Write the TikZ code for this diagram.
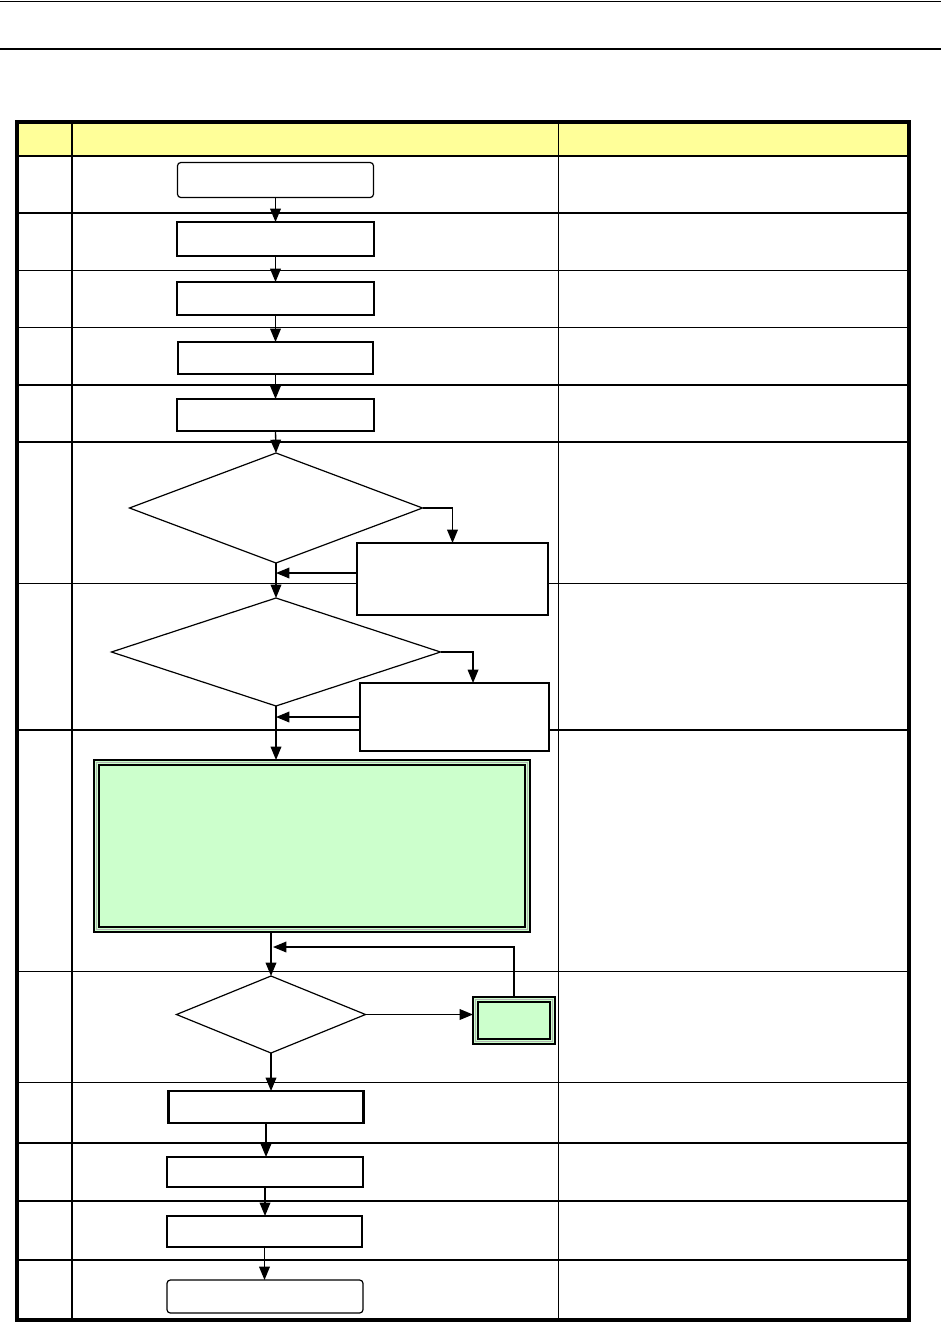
\documentclass[tikz,border=0pt]{standalone}
\usetikzlibrary{shapes.geometric,arrows.meta,calc}
\definecolor{hdr}{RGB}{255,255,153}
\definecolor{grn}{RGB}{204,255,204}
\begin{document}
\begin{tikzpicture}[x=0.75pt,y=-0.75pt,
  thinl/.style={line width=0.75pt},
  thickl/.style={line width=1.6pt},
  box/.style={draw, fill=white, inner sep=0pt, outer sep=0pt},
  rbox/.style={box, rounded corners=2.5pt},
  dia/.style={draw, fill=white, shape=diamond, inner sep=0pt, outer sep=0pt, line width=0.9pt},
  arr/.style={-{Triangle[length=10pt,width=8pt]}, line width=1pt},
  gbox/.style={draw, fill=grn, inner sep=0pt, outer sep=0pt, line width=1.8pt}]
\useasboundingbox (0,0) rectangle (941,1322);
\fill[white] (0,0) rectangle (941,1322);
% page rules
\draw[thinl] (0,1) -- (941,1);
\draw[line width=1.8pt] (0,49) -- (941,49);
% table
\fill[hdr] (17,122) rectangle (909,156);
\foreach \yy in {270,327,583,971,1082} \draw[thinl] (17,\yy) -- (909,\yy);
\foreach \yy in {156,213,385,442,730,1143,1201,1260} \draw[thickl] (17,\yy) -- (909,\yy);
\draw[thinl] (558,122) -- (558,1320);
\draw[thickl] (72,122) -- (72,1320);
\draw[line width=2.3pt] (17,122) rectangle (909,1320);
% process boxes
\node[rbox, line width=0.9pt, minimum width={196*0.75pt}, minimum height={35*0.75pt}] (b1) at (275.5,180) {};
\node[box, line width=1.6pt, minimum width={197*0.75pt}, minimum height={34*0.75pt}] (b2) at (275.5,239) {};
\node[box, line width=0.9pt, minimum width={197*0.75pt}, minimum height={33*0.75pt}] (b3) at (275.5,298.5) {};
\node[box, line width=1.1pt, minimum width={195*0.75pt}, minimum height={32*0.75pt}] (b4) at (275.5,358) {};
\node[box, line width=1.6pt, minimum width={197*0.75pt}, minimum height={32*0.75pt}] (b5) at (275.5,415) {};
% decisions
\node[dia, minimum width={293*0.75pt}, minimum height={110*0.75pt}] (d1) at (276,508) {};
\node[box, line width=1.3pt, minimum width={191*0.75pt}, minimum height={72*0.75pt}] (s1) at (452.5,579) {};
\node[dia, minimum width={329*0.75pt}, minimum height={108*0.75pt}] (d2) at (276,652) {};
\node[box, line width=1.3pt, minimum width={189*0.75pt}, minimum height={68*0.75pt}] (s2) at (454.5,717) {};
% green process
\node[gbox, minimum width={436*0.75pt}, minimum height={172*0.75pt}] (g) at (312,846) {};
\draw[gray!60, line width=1.1pt] ($(g.south west)+(2.6,-2.6)$) rectangle ($(g.north east)+(-2.6,2.6)$);
\draw[line width=1.3pt] ($(g.south west)+(5,-5)$) rectangle ($(g.north east)+(-5,5)$);
\node[dia, minimum width={189*0.75pt}, minimum height={77*0.75pt}] (d3) at (271,1014.5) {};
\node[gbox, minimum width={82*0.75pt}, minimum height={47*0.75pt}] (sg) at (514,1020.5) {};
\draw[gray!60, line width=1.1pt] ($(sg.south west)+(2.6,-2.6)$) rectangle ($(sg.north east)+(-2.6,2.6)$);
\draw[line width=1.3pt] ($(sg.south west)+(5,-5)$) rectangle ($(sg.north east)+(-5,5)$);
% lower boxes
\node[box, line width=1.6pt, minimum width={195*0.75pt}, minimum height={32*0.75pt}] (b10) at (266,1107) {};
\node[box, line width=1.6pt, minimum width={196*0.75pt}, minimum height={30*0.75pt}] (b11) at (265,1172) {};
\node[box, line width=0.9pt, minimum width={195*0.75pt}, minimum height={31*0.75pt}] (b12) at (264.5,1231.5) {};
\node[rbox, line width=0.9pt, minimum width={196*0.75pt}, minimum height={33*0.75pt}] (b13) at (265,1296.5) {};
% connectors
\draw[arr] (b1.south) -- (b2.north);
\draw[arr] (b2.south) -- (b3.north);
\draw[arr] (b3.south) -- (b4.north);
\draw[arr] (b4.south) -- (b5.north);
\draw[arr] (b5.south) -- (d1.north);
\draw[arr] (d1.east) -| (s1.north);
\coordinate (j1) at ([yshift=4.5pt]s1.west);
\draw[arr] (j1) -- (j1 -| d1.south);
\draw[arr] (d1.south) -- (d2.north);
\coordinate (j2) at ([xshift=13.9pt]s2.north);
\draw[arr] (d2.east) -| (j2);
\draw[arr] (s2.west) -- (s2.west -| d2.south);
\draw[arr] (d2.south) -- (d2.south |- g.north);
\draw[arr] (d3.north |- g.south) -- (d3.north);
\draw[arr] (d3.east) -- (d3.east -| sg.west);
\coordinate (fb) at (273,947);
\draw[arr] (sg.north) |- (fb);
\draw[arr] (d3.south) -- (d3.south |- b10.north);
\draw[arr] (b10.south) -- (b10.south |- b11.north);
\draw[arr] (b11.south) -- (b11.south |- b12.north);
\draw[arr] (b12.south) -- (b12.south |- b13.north);
\end{tikzpicture}
\end{document}
